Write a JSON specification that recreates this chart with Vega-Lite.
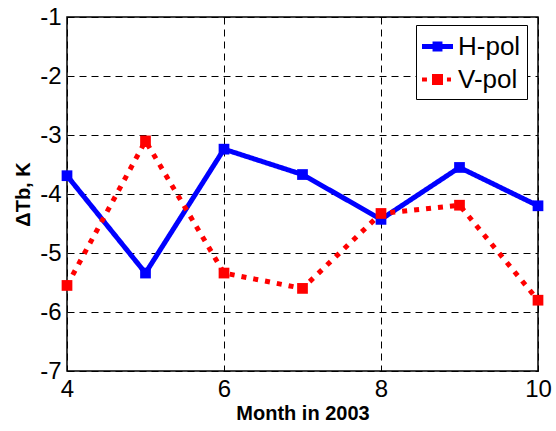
{
  "$schema": "https://vega.github.io/schema/vega-lite/v6.json",
  "width": 471,
  "height": 354,
  "autosize": {"type": "none"},
  "padding": {"left": 67, "top": 17, "right": 18, "bottom": 60},
  "background": "white",
  "config": {
    "font": "Liberation Sans",
    "view": {"stroke": "black", "strokeWidth": 1.5},
    "axis": {
      "domain": false,
      "ticks": false,
      "tickSize": 0,
      "grid": true,
      "gridColor": "black",
      "gridDash": [7, 5],
      "gridWidth": 1,
      "gridOpacity": 1,
      "labelFont": "Liberation Sans",
      "labelFontSize": 24,
      "labelColor": "black",
      "labelPadding": 6,
      "titleFont": "Liberation Sans",
      "titleFontSize": 20,
      "titleFontWeight": "bold",
      "titleColor": "black"
    }
  },
  "data": {
    "values": [
      {"month": 4, "series": "H-pol", "value": -3.69},
      {"month": 5, "series": "H-pol", "value": -5.34},
      {"month": 6, "series": "H-pol", "value": -3.24},
      {"month": 7, "series": "H-pol", "value": -3.67},
      {"month": 8, "series": "H-pol", "value": -4.43},
      {"month": 9, "series": "H-pol", "value": -3.55},
      {"month": 10, "series": "H-pol", "value": -4.20},
      {"month": 4, "series": "V-pol", "value": -5.55},
      {"month": 5, "series": "V-pol", "value": -3.10},
      {"month": 6, "series": "V-pol", "value": -5.34},
      {"month": 7, "series": "V-pol", "value": -5.60},
      {"month": 8, "series": "V-pol", "value": -4.33},
      {"month": 9, "series": "V-pol", "value": -4.19},
      {"month": 10, "series": "V-pol", "value": -5.80}
    ]
  },
  "encoding": {
    "x": {
      "field": "month",
      "type": "quantitative",
      "scale": {"domain": [4, 10], "nice": false, "zero": false},
      "axis": {"values": [4, 6, 8, 10], "title": "Month in 2003", "titlePadding": 2, "labelFlush": false}
    },
    "y": {
      "field": "value",
      "type": "quantitative",
      "scale": {"domain": [-7, -1], "nice": false, "zero": false},
      "axis": {"values": [-7, -6, -5, -4, -3, -2, -1], "title": "ΔTb, K", "titlePadding": 6, "labelFlush": false, "labelExpr": "'' + datum.value"}
    },
    "color": {
      "field": "series",
      "type": "nominal",
      "scale": {"domain": ["H-pol", "V-pol"], "range": ["#0000ff", "#ff0000"]},
      "legend": {
        "title": null,
        "orient": "none",
        "legendX": 349,
        "legendY": 8,
        "padding": 6,
        "strokeColor": "black",
        "fillColor": "white",
        "cornerRadius": 0,
        "labelFontSize": 26,
        "labelFont": "Liberation Sans",
        "labelColor": "black",
        "labelOffset": 5,
        "rowPadding": 4,
        "symbolSize": 961,
        "symbolType": "square",
        "encode": {
          "symbols": {
            "update": {
              "shape": {"signal": "datum.value === 'H-pol' ? 'M-1,-0.16H1V0.16H-1Z M-0.32,-0.32H0.32V0.32H-0.32Z' : 'M-1,-0.13H-0.68V0.13H-1Z M-0.355,-0.355H0.355V0.355H-0.355Z M0.61,-0.13H0.87V0.13H0.61Z'"},
              "fill": {"signal": "datum.value === 'H-pol' ? '#0000ff' : '#ff0000'"},
              "fillOpacity": {"value": 1},
              "opacity": {"value": 1},
              "strokeWidth": {"value": 0},
              "strokeDash": {"value": []}
            }
          }
        }
      }
    }
  },
  "layer": [
    {
      "mark": {"type": "line", "strokeWidth": 5, "strokeCap": "butt", "strokeJoin": "miter"},
      "encoding": {
        "strokeDash": {
          "field": "series",
          "type": "nominal",
          "scale": {"domain": ["H-pol", "V-pol"], "range": [[1, 0], [5, 7]]},
          "legend": null
        }
      }
    },
    {
      "mark": {"type": "point", "shape": "square", "filled": true, "size": 115, "opacity": 1}
    }
  ]
}
